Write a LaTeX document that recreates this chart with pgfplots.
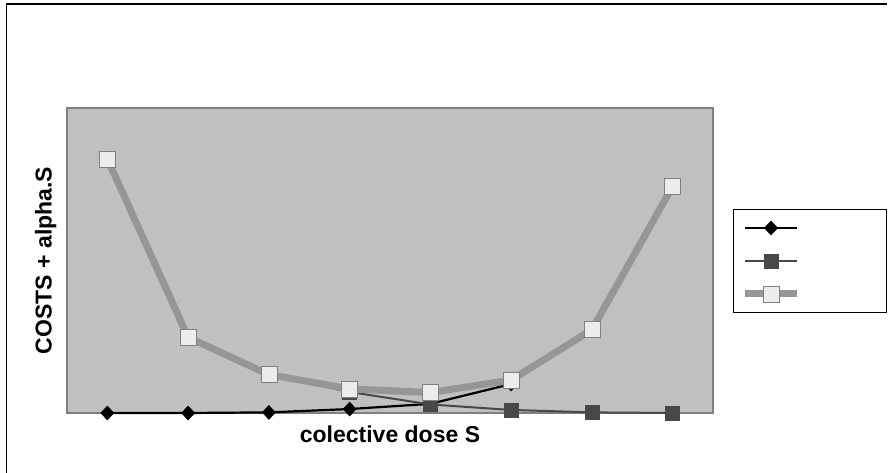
\documentclass[border=0pt]{standalone}
\usepackage{fontspec}
\setmainfont{Liberation Sans}
\usepackage{pgfplots}
\pgfplotsset{compat=1.18}
\definecolor{plotbg}{RGB}{192,192,192}
\definecolor{axisgray}{RGB}{128,128,128}
\definecolor{darkser}{RGB}{72,72,72}
\definecolor{thickser}{RGB}{150,150,150}
\definecolor{lightmark}{RGB}{236,236,236}

\begin{document}
\begin{tikzpicture}
  \useasboundingbox (0,0) rectangle (889pt,473pt);
  % outer frame (only left and top edges fall inside the picture)
  \draw[line width=1.5pt] (6.5pt,0pt) -- (6.5pt,469pt) -- (887pt,469pt);
  \begin{axis}[
    at={(67pt,60pt)}, anchor=south west,
    scale only axis,
    width=646pt, height=305pt,
    xmin=0, xmax=8,
    ymin=0, ymax=100,
    xtick=\empty, ytick=\empty,
    clip=false,
    axis background/.style={fill=plotbg},
    axis line style={draw=axisgray, line width=2.5pt},
    xlabel={colective dose S},
    ylabel={COSTS + alpha.S},
    label style={font=\bfseries\fontsize{23}{27}\selectfont},
    xlabel style={yshift=-9pt},
    ylabel style={yshift=7pt},
    legend style={at={(1.031,0.669)}, anchor=north west,
      draw=black, line width=1pt, fill=white,
      inner xsep=8pt, inner ysep=2pt, row sep=0pt,
      nodes={minimum height=33pt, text width=78pt, inner sep=0pt}},
    legend image code/.code={
      \draw[mark repeat=2, mark phase=2]
        plot coordinates {(0pt,0pt) (26pt,0pt) (52pt,0pt)};},
  ]
    % series 1: black diamonds
    \addplot[black, line width=2.2pt, mark=diamond*,
      mark options={solid, fill=black, mark size=7pt, xscale=1.25, line width=0.5pt}]
      coordinates {(0.5,0) (1.5,0) (2.5,0.2) (3.5,1.3) (4.5,3.0) (5.5,9.5)};
    \addlegendentry{}
    % series 2: dark grey squares
    \addplot[darkser, line width=2pt, mark=square*,
      mark options={solid, fill=darkser, draw=darkser, mark size=7pt, line width=0.5pt}]
      coordinates {(0.5,83.3) (1.5,24.8) (2.5,12.4) (3.5,6.9) (4.5,2.8)
                   (5.5,1.0) (6.5,0.2) (7.5,0)};
    \addlegendentry{}
    % series 3: thick grey line, light squares
    \addplot[thickser, line width=7pt, mark=square*,
      mark options={solid, fill=lightmark, draw=axisgray, mark size=8pt, line width=0.6pt}]
      coordinates {(0.5,83.3) (1.5,24.8) (2.5,12.6) (3.5,7.9) (4.5,6.7)
                   (5.5,10.8) (6.5,27.3) (7.5,74.3)};
    \addlegendentry{}
  \end{axis}
\end{tikzpicture}
\end{document}
